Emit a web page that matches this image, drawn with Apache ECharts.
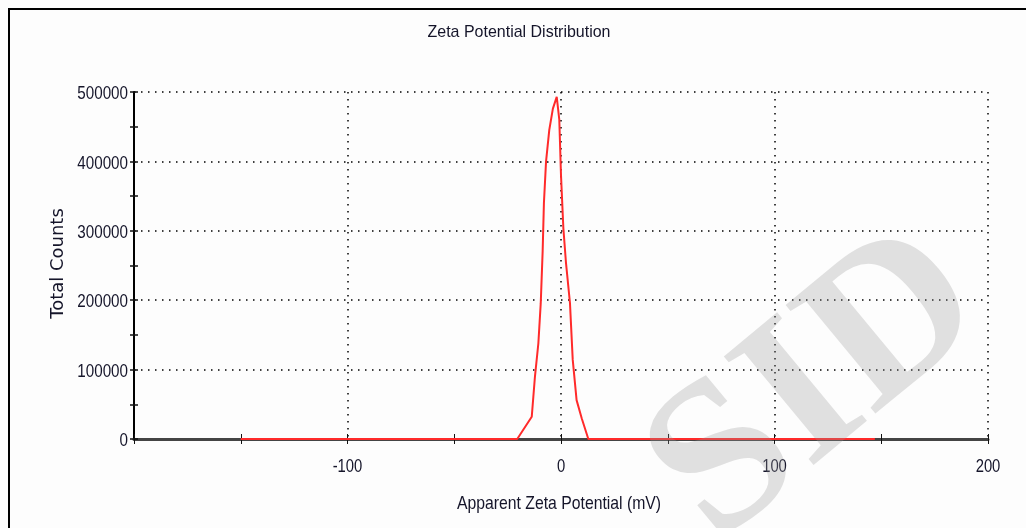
<!DOCTYPE html>
<html>
<head>
<meta charset="utf-8">
<script src="https://cdn.jsdelivr.net/npm/echarts@6/dist/echarts.min.js"></script>
<style>
html,body{margin:0;padding:0;background:#fdfdfd;}
#frame{position:absolute;left:8px;top:8px;width:1100px;height:600px;border-top:2px solid #000;border-left:2px solid #000;}
#chart{position:absolute;left:0;top:0;width:1026px;height:528px;}
</style>
</head>
<body>
<div id="frame"></div>
<div id="chart"></div>
<script>
// Data
const zetaMv = [-150, -20.5, -13.7, -12.2, -10.6, -9.5, -8.6, -8.0, -7.0, -5.5, -3.8, -2.0, -0.8, 0, 1.1, 2.3, 4.2, 5.5, 7.3, 9.7, 12.8, 147];
const totalCounts = [0, 0, 32000, 90000, 138000, 195000, 270000, 340000, 400000, 445000, 476000, 493000, 460000, 380000, 304000, 255000, 196000, 114000, 56000, 30000, 0, 0];
const xLabels = [-100, 0, 100, 200];
const yLabels = [0, 100000, 200000, 300000, 400000, 500000];
const titleText = 'Zeta Potential Distribution';
const xName = 'Apparent Zeta Potential (mV)';
const yName = 'Total Counts';

const sans = '"Liberation Sans", Arial, sans-serif';
const textColor = '#15152a';
const dotted = {color: '#000', width: 1.5, type: [1.5, 5.5]};
const tickStyle = {color: '#111', width: 1};

const chart = echarts.init(document.getElementById('chart'), null, {renderer: 'canvas'});

function hiddenAxis(extra) {
  return Object.assign({
    type: 'value',
    axisLine: {show: false, onZero: false},
    axisTick: {show: false},
    axisLabel: {show: false},
    splitLine: {show: false}
  }, extra);
}

chart.setOption({
  animation: false,
  backgroundColor: 'transparent',
  grid: {left: 134, right: 38, top: 92, bottom: 89, containLabel: false},
  xAxis: [
    {
      type: 'value', min: -200, max: 200, interval: 50, position: 'bottom',
      axisLine: {show: true, onZero: false, lineStyle: {color: '#444', width: 3}},
      axisTick: {show: true, length: 5, lineStyle: tickStyle},
      axisLabel: {show: false},
      splitLine: {show: false}
    },
    hiddenAxis({min: -200, max: 200, interval: 50, position: 'bottom',
      axisTick: {show: true, inside: true, length: 5, lineStyle: tickStyle}}),
    hiddenAxis({min: -200, max: 200, interval: 100, position: 'bottom',
      splitLine: {show: true, showMinLine: false, lineStyle: dotted}})
  ],
  yAxis: [
    {
      type: 'value', min: 0, max: 500000, interval: 50000, position: 'left',
      axisLine: {show: true, onZero: false, lineStyle: {color: '#000', width: 2}},
      axisTick: {show: true, length: 4, lineStyle: {color: '#111', width: 1.5}},
      axisLabel: {show: false},
      splitLine: {show: false}
    },
    hiddenAxis({min: 0, max: 500000, interval: 50000, position: 'left',
      axisTick: {show: true, inside: true, length: 4, lineStyle: {color: '#111', width: 1.5}}}),
    hiddenAxis({min: 0, max: 500000, interval: 100000, position: 'left',
      splitLine: {show: true, showMinLine: false, lineStyle: dotted}})
  ],
  series: [{
    type: 'line', xAxisIndex: 0, yAxisIndex: 0,
    data: zetaMv.map((x, i) => [x, totalCounts[i]]),
    symbol: 'none', z: 5,
    lineStyle: {color: '#ff2a2a', width: 2}
  }]
});

// Narrow (Arial-Narrow-like) text: real text, horizontally condensed, placed with the axes' own scales
function label(text, x, y, size, sx, align, family) {
  return {
    type: 'text', x: x, y: y, scaleX: sx, z: 50,
    style: {
      text: text, fontFamily: family || sans, fontSize: size, fill: textColor,
      align: align, textAlign: align, verticalAlign: 'middle', textVerticalAlign: 'middle'
    }
  };
}

const els = [];
const axisY = chart.convertToPixel({yAxisIndex: 0}, 0);
const axisX = chart.convertToPixel({xAxisIndex: 0}, -200);
yLabels.forEach(v => {
  const py = chart.convertToPixel({yAxisIndex: 0}, v);
  els.push(label(String(v), axisX - 6, py + 2, 19, 0.8, 'right'));
});
xLabels.forEach(v => {
  const px = chart.convertToPixel({xAxisIndex: 0}, v);
  els.push(label(String(v), px, axisY + 28, 19, 0.78, 'center'));
});
const midX = chart.convertToPixel({xAxisIndex: 0}, 0);
els.push(label(xName, midX - 2, axisY + 65, 19, 0.83, 'center'));
els.push(label(titleText, 519, 32, 17, 0.94, 'center'));
const midY = chart.convertToPixel({yAxisIndex: 0}, 250000);
els.push({
  type: 'text', x: 58, y: midY - 2, rotation: Math.PI / 2, z: 50,
  style: {
    text: yName, fontFamily: '"DejaVu Sans", sans-serif', fontSize: 18, fill: textColor,
    align: 'center', textAlign: 'center', verticalAlign: 'middle', textVerticalAlign: 'middle'
  }
});
// watermark
els.push({
  type: 'text', z: 100, x: 612, y: 420,
  rotation: Math.PI * 0.22,
  style: {
    text: 'SID', fontFamily: '"Liberation Serif", "DejaVu Serif", serif',
    fontSize: 215, fontWeight: 'bold', fill: 'rgba(150,150,150,0.28)'
  }
});
chart.setOption({graphic: els});
</script>
</body>
</html>
